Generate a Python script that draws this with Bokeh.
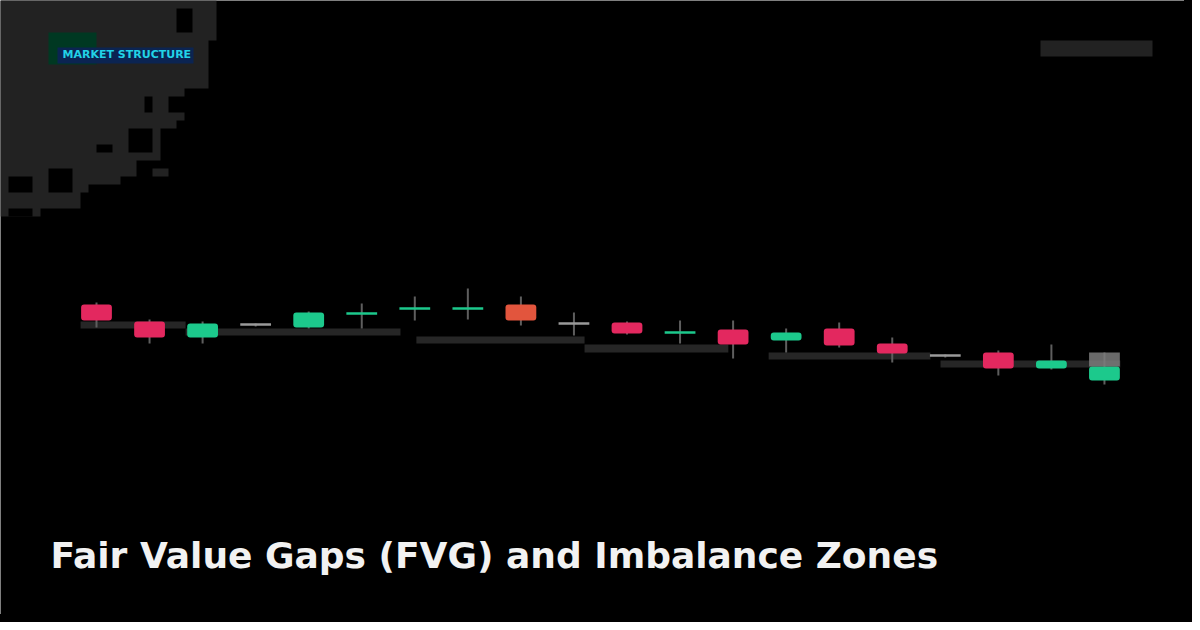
from bokeh.plotting import figure
from bokeh.models import Range1d, Label
from bokeh.embed import file_html
from bokeh.resources import INLINE

# ---------------- data ----------------
candle_idx = list(range(20))
opens  = [99.6, 97.9, 96.3, 97.6, 97.3, 98.68, 99.18, 99.18, 99.6, 97.7, 97.8, 96.78, 97.1, 96.0, 97.2, 95.7, 94.5, 94.8, 93.2, 92.0]
closes = [98.0, 96.3, 97.7, 97.6, 98.8, 98.72, 99.22, 99.22, 98.0, 97.7, 96.7, 96.82, 95.6, 96.8, 95.5, 94.7, 94.5, 93.2, 94.0, 93.4]
highs  = [99.8, 98.1, 97.9, 97.7, 98.9, 99.7, 100.4, 101.2, 100.4, 98.8, 97.9, 98.0, 98.0, 97.2, 97.8, 96.3, 94.6, 95.0, 95.6, 94.8]
lows   = [97.3, 95.7, 95.7, 97.4, 97.2, 97.2, 98.0, 98.1, 97.5, 96.5, 96.6, 95.7, 94.2, 94.8, 95.3, 93.8, 94.3, 92.5, 93.1, 91.6]
highlight_idx = [8]

# FVG / imbalance zones (start, end in candle units; bottom/top in price)
zone_start  = [-0.30, 1.68, 6.03, 9.20, 12.67, 15.91]
zone_end    = [1.68, 5.73, 9.20, 11.91, 15.72, 19.30]
zone_bottom = [97.2, 96.5, 95.7, 94.8, 94.1, 93.3]
zone_top    = [97.9, 97.2, 96.4, 95.6, 94.8, 94.0]

title_text = "Fair Value Gaps (FVG) and Imbalance Zones"
badge_text = "MARKET STRUCTURE"

# ---------------- styles ----------------
BULL = "#1cc98c"
BEAR = "#e3285f"
HIGH = "#e2553d"
FLAT = "#9a9a9a"
WICK = "#5e5e5e"
ZONE = "#262626"
DECO = "#222222"

W, H = 1184, 614
p = figure(width=W, height=H, x_range=Range1d(-1.8096, 20.509), y_range=Range1d(68.6, 130.0),
           output_backend="svg", toolbar_location=None, min_border=0,
           x_axis_location=None, y_axis_location=None,
           background_fill_color="#000000", border_fill_color="#000000",
           outline_line_color=None)
p.grid.visible = False
p.styles = {"box-shadow": "0 0 0 8px #000000"}

# pixel ranges for decorations
p.extra_x_ranges = {"px": Range1d(0, W)}
p.extra_y_ranges = {"px": Range1d(H, 0)}

# ---- top-left grid decoration (staircase polygon) ----
steps = [(0, 216), (40, 208), (88, 184), (96, 168), (112, 184), (120, 176), (128, 160),
         (160, 136), (176, 120), (184, 88), (192, 80), (208, 40), (216, 0)]
xs, ys = [0], [0]
for (y0, xr), (y1, _) in zip(steps[:-1], steps[1:]):
    xs += [xr, xr]
    ys += [y0, y1]
xs += [0]
ys += [216]
p.patch(x=xs, y=ys, fill_color=DECO, line_color=None, x_range_name="px", y_range_name="px")
holes = [(176, 8, 192, 32), (144, 96, 152, 112), (128, 128, 152, 152), (96, 144, 112, 152),
         (8, 176, 32, 192), (48, 168, 72, 192), (8, 208, 32, 216)]
p.quad(left=[h[0] for h in holes], right=[h[2] for h in holes], top=[h[1] for h in holes],
       bottom=[h[3] for h in holes], fill_color="#000000", line_color=None,
       x_range_name="px", y_range_name="px")
p.quad(left=[152], right=[168], top=[168], bottom=[176], fill_color=DECO, line_color=None,
       x_range_name="px", y_range_name="px")

# badge
p.quad(left=[48], right=[96], top=[32], bottom=[64], fill_color="#003822", line_color=None,
       x_range_name="px", y_range_name="px")
p.quad(left=[57], right=[193], top=[47], bottom=[63], fill_color="#0b2452", line_color=None,
       x_range_name="px", y_range_name="px")
p.add_layout(Label(x=62, y=54, text=badge_text, x_range_name="px", y_range_name="px",
                   text_font="DejaVu Sans", text_font_size="11px", text_font_style="bold",
                   text_color="#22d3e6", text_baseline="alphabetic"))

# top-right placeholder
p.quad(left=[1040], right=[1152], top=[40], bottom=[56], fill_color=DECO, line_color=None,
       x_range_name="px", y_range_name="px")

# ---- zones ----
p.quad(left=zone_start, right=zone_end, bottom=zone_bottom, top=zone_top,
       fill_color=ZONE, line_color=None)

# ---- candles ----
hw = 0.29
body_x, body_top, body_bot, body_col = [], [], [], []
doji_x0, doji_x1, doji_y, doji_col = [], [], [], []
for i, o, c in zip(candle_idx, opens, closes):
    if c > o:
        col = BULL
    elif c < o:
        col = BEAR
    else:
        col = FLAT
    if i in highlight_idx:
        col = HIGH
    if abs(c - o) < 0.3:
        doji_x0.append(i - hw); doji_x1.append(i + hw); doji_y.append((o + c) / 2); doji_col.append(col)
    else:
        body_x.append(i); body_top.append(max(o, c)); body_bot.append(min(o, c)); body_col.append(col)

p.segment(x0=candle_idx, x1=candle_idx, y0=lows, y1=highs, line_color=WICK, line_width=2)
p.segment(x0=doji_x0, x1=doji_x1, y0=doji_y, y1=doji_y, line_color=doji_col, line_width=2.5)
p.vbar(x=body_x, width=2 * hw, top=body_top, bottom=body_bot, fill_color=body_col,
       line_color=None, border_radius=3)

# last price tag on the latest candle
last = candle_idx[-1]
p.quad(left=[last - hw], right=[last + hw], bottom=[closes[-1]], top=[highs[-1]],
       fill_color="#7c7c7c", fill_alpha=0.85, line_color=None)

# ---- title ----
p.add_layout(Label(x=50, y=555, text=title_text, x_range_name="px", y_range_name="px",
                   text_font="DejaVu Sans", text_font_size="36px", text_font_style="bold",
                   text_color="#f2f2f2", text_baseline="alphabetic"))

open("out.html", "w").write(file_html(p, INLINE))
